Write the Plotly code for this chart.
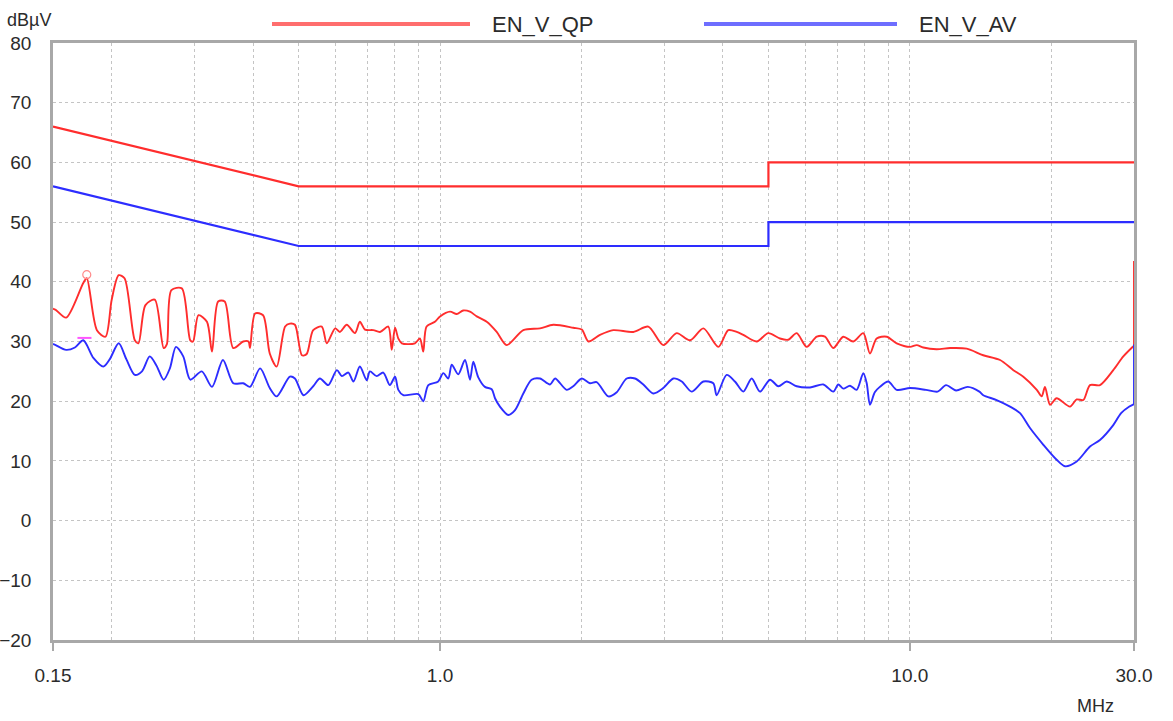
import plotly.graph_objects as go

# ---------------- data ----------------
limit_freq = [0.15, 0.5, 5.0, 5.0, 30.0]
qp_limit = [66, 56, 56, 60, 60]
av_limit = [56, 46, 46, 50, 50]

qp_freq = [0.150, 0.152, 0.160, 0.174, 0.177, 0.186, 0.194, 0.200, 0.207, 0.213, 0.224, 0.228,
           0.236, 0.247, 0.258, 0.262, 0.268, 0.282, 0.294, 0.298, 0.306, 0.319, 0.327, 0.337,
           0.348, 0.363, 0.381, 0.391, 0.394, 0.404, 0.420, 0.434, 0.449, 0.468, 0.479, 0.491,
           0.508, 0.520, 0.537, 0.560, 0.574, 0.598, 0.612, 0.633, 0.659, 0.675, 0.692, 0.721,
           0.745, 0.776, 0.789, 0.802, 0.815, 0.829, 0.884, 0.906, 0.921, 0.936, 0.975, 1.000,
           1.050, 1.085, 1.120, 1.158, 1.197, 1.257, 1.320, 1.386, 1.504, 1.632, 1.742, 1.921,
           2.003, 2.069, 2.190, 2.337, 2.579, 2.775, 2.986, 3.189, 3.405, 3.635, 3.911, 4.107,
           4.280, 4.421, 4.721, 4.996, 5.292, 5.511, 5.743, 6.032, 6.335, 6.597, 6.870, 7.215,
           7.578, 7.959, 8.224, 8.499, 8.927, 9.376, 10.01, 10.34, 10.68, 11.40, 12.18, 13.21,
           14.33, 15.56, 16.61, 17.44, 18.63, 19.08, 19.39, 19.88, 20.53, 21.92, 22.65, 23.40,
           24.18, 25.39, 27.10, 28.47, 29.81, 30.0]
qp_level = [35.5, 35.3, 34.0, 39.8, 40.6, 31.9, 30.8, 37.0, 41.1, 40.6, 30.2, 29.7,
            36.1, 37.0, 28.9, 29.5, 38.6, 38.9, 30.2, 30.0, 34.4, 33.3, 28.3, 36.7,
            36.7, 28.9, 30.0, 30.0, 28.9, 34.7, 34.4, 28.0, 25.8, 32.5, 33.0, 32.8,
            27.7, 27.9, 31.9, 32.5, 29.7, 32.2, 31.6, 32.8, 31.4, 33.3, 32.0, 31.9,
            31.6, 32.5, 28.6, 32.3, 30.5, 29.7, 29.7, 30.5, 28.3, 32.5, 33.3, 34.2,
            35.0, 34.6, 35.2, 35.0, 34.2, 33.3, 31.6, 29.4, 31.9, 32.2, 32.8, 32.3,
            32.0, 30.0, 31.1, 31.9, 31.6, 32.5, 29.4, 31.4, 30.2, 32.2, 29.1, 31.9,
            31.6, 31.1, 30.0, 31.4, 30.5, 30.3, 31.4, 29.1, 30.8, 30.8, 28.9, 30.8,
            30.0, 31.4, 28.0, 30.5, 30.8, 29.7, 29.1, 29.4, 29.0, 28.7, 28.9, 28.8,
            27.7, 26.9, 25.2, 24.1, 21.9, 20.8, 22.4, 19.4, 20.5, 19.1, 20.3, 20.2,
            22.7, 22.7, 25.2, 27.5, 29.1, 29.3]
qp_end_freq = [30.0, 30.0]
qp_end_level = [29.3, 43.5]

av_freq = [0.150, 0.152, 0.160, 0.167, 0.174, 0.183, 0.192, 0.198, 0.207, 0.215, 0.224, 0.232,
           0.241, 0.249, 0.258, 0.266, 0.274, 0.284, 0.294, 0.311, 0.327, 0.345, 0.363, 0.381,
           0.394, 0.414, 0.434, 0.449, 0.479, 0.491, 0.512, 0.537, 0.555, 0.578, 0.603, 0.618,
           0.638, 0.654, 0.675, 0.698, 0.709, 0.733, 0.757, 0.782, 0.802, 0.815, 0.835, 0.899,
           0.921, 0.944, 0.991, 1.016, 1.041, 1.059, 1.093, 1.130, 1.158, 1.177, 1.206, 1.246,
           1.288, 1.309, 1.341, 1.397, 1.444, 1.504, 1.566, 1.632, 1.714, 1.757, 1.860, 1.921,
           2.003, 2.085, 2.154, 2.281, 2.377, 2.496, 2.601, 2.708, 2.844, 2.986, 3.137, 3.269,
           3.432, 3.635, 3.816, 3.879, 4.074, 4.243, 4.421, 4.606, 4.797, 5.039, 5.249, 5.468,
           5.743, 6.130, 6.543, 6.870, 7.041, 7.215, 7.457, 7.705, 7.959, 8.094, 8.224, 8.421,
           8.631, 8.997, 9.376, 10.01, 10.82, 11.46, 11.94, 12.54, 13.28, 14.06, 14.33, 15.30,
           16.34, 17.16, 18.02, 19.24, 20.53, 21.39, 22.65, 24.18, 25.39, 27.10, 28.16, 29.33,
           30.0]
av_level = [29.6, 29.4, 28.6, 29.0, 30.2, 27.2, 25.8, 27.0, 29.7, 27.0, 24.4, 25.0,
            27.5, 26.0, 23.6, 25.5, 29.1, 27.5, 23.6, 25.0, 22.4, 26.9, 23.0, 23.0,
            22.4, 25.5, 22.2, 20.8, 24.1, 23.8, 21.0, 22.5, 23.8, 22.7, 25.2, 24.2,
            24.8, 23.3, 25.8, 23.5, 25.0, 24.2, 24.8, 22.7, 24.1, 21.9, 21.0, 21.2,
            20.0, 22.7, 23.3, 24.7, 23.8, 26.1, 24.5, 26.9, 23.6, 26.6, 24.0, 22.4,
            22.0, 20.5, 19.1, 17.7, 18.5, 21.3, 23.6, 23.8, 22.8, 23.8, 21.9, 22.5,
            23.8, 23.0, 23.2, 20.8, 21.5, 23.8, 23.8, 22.8, 21.3, 22.2, 23.8, 23.3,
            21.6, 23.3, 23.0, 21.0, 24.4, 23.3, 21.6, 23.8, 21.6, 23.6, 22.5, 23.3,
            22.5, 22.3, 22.8, 21.6, 22.8, 22.1, 22.6, 21.9, 24.7, 23.0, 19.4, 21.5,
            22.4, 23.3, 21.9, 22.2, 21.9, 21.6, 22.7, 21.8, 22.4, 21.6, 21.0, 20.2,
            19.1, 18.0, 15.5, 12.7, 10.2, 9.1, 9.9, 12.4, 13.5, 16.0, 18.0, 19.1,
            19.5]
av_end_freq = [30.0, 30.0]
av_end_level = [19.5, 29.5]

qp_peak_freq = [0.177]
qp_peak_level = [41.2]
av_peak_freq = [0.175]
av_peak_level = [30.6]

x_tick_vals = [0.15, 1.0, 10.0, 30.0]
x_tick_text = ["0.15", "1.0", "10.0", "30.0"]
x_minor_vals = [0.2, 0.3, 0.4, 0.5, 0.6, 0.7, 0.8, 0.9, 1.0,
                2, 3, 4, 5, 6, 7, 8, 9, 10, 20]
y_tick_vals = [-20, -10, 0, 10, 20, 30, 40, 50, 60, 70, 80]

legend_names = ["EN_V_QP", "EN_V_AV"]

# ---------------- styles ----------------
RED = "#ff2d2d"
BLUE = "#2d2dff"
FONT = "Liberation Sans, Arial, sans-serif"
GRID = "#c4c4c4"
FRAME = "#a8a8a8"
TXT = "#2b2b2b"

W, H = 1173, 721
ML, MR, MT, MB = 53, 39, 43, 81
plot_w = W - ML - MR
plot_h = H - MT - MB

fig = go.Figure()

fig.add_trace(go.Scatter(x=limit_freq, y=qp_limit, mode="lines", name=legend_names[0],
                         line=dict(color=RED, width=2.2), showlegend=False))
fig.add_trace(go.Scatter(x=limit_freq, y=av_limit, mode="lines", name=legend_names[1],
                         line=dict(color=BLUE, width=2.2), showlegend=False))
fig.add_trace(go.Scatter(x=qp_freq, y=qp_level, mode="lines", name="QP",
                         line=dict(color=RED, width=1.9, shape="spline", smoothing=0.8),
                         showlegend=False))
fig.add_trace(go.Scatter(x=qp_end_freq, y=qp_end_level, mode="lines", showlegend=False,
                         line=dict(color=RED, width=1.9)))
fig.add_trace(go.Scatter(x=av_freq, y=av_level, mode="lines", name="AV",
                         line=dict(color=BLUE, width=1.9, shape="spline", smoothing=0.8),
                         showlegend=False))
fig.add_trace(go.Scatter(x=av_end_freq, y=av_end_level, mode="lines", showlegend=False,
                         line=dict(color=BLUE, width=1.9)))
fig.add_trace(go.Scatter(x=qp_peak_freq, y=qp_peak_level, mode="markers", showlegend=False,
                         marker=dict(symbol="circle-open", size=8, color="#ff8a8a",
                                     line=dict(width=1.2))))
fig.add_trace(go.Scatter(x=av_peak_freq, y=av_peak_level, mode="markers", showlegend=False,
                         marker=dict(symbol="line-ew", size=10, color="#ff55ff",
                                     line=dict(width=2, color="#ff55ff"))))

# custom legend (long line samples like the original software)
def px(xp):
    return (xp - ML) / plot_w

legend_y = 1 + (MT - 24) / plot_h
legend_items = [(272, 470, 490, legend_names[0], "#ff6e6e"),
                (704, 897, 917, legend_names[1], "#6e6eff")]
for x0, x1, xt, name, col in legend_items:
    fig.add_shape(type="line", xref="paper", yref="paper", x0=px(x0), x1=px(x1),
                  y0=legend_y, y1=legend_y, line=dict(color=col, width=4))
    fig.add_annotation(text=name, xref="paper", yref="paper", x=px(xt), y=legend_y,
                       xanchor="left", yanchor="middle", showarrow=False,
                       font=dict(family=FONT, size=22, color=TXT))

fig.add_annotation(text="dBµV", xref="paper", yref="paper", x=0, y=1, xanchor="right",
                   yanchor="middle", xshift=0, yshift=MT - 20, showarrow=False,
                   font=dict(family=FONT, size=18, color=TXT))
fig.add_annotation(text="MHz", xref="paper", yref="paper", x=1, y=0, xanchor="right",
                   yanchor="middle", xshift=-18, yshift=-66, showarrow=False,
                   font=dict(family=FONT, size=18, color=TXT))

fig.update_layout(
    width=W, height=H,
    margin=dict(l=ML, r=MR, t=MT, b=MB, autoexpand=False),
    paper_bgcolor="white", plot_bgcolor="white",
    font=dict(family=FONT, size=19, color=TXT),
    showlegend=False,
)
fig.update_xaxes(
    type="log", range=[-0.82391, 1.47712],
    tickvals=x_tick_vals, ticktext=x_tick_text,
    ticks="outside", ticklen=8, tickcolor=FRAME, tickwidth=1.5,
    showgrid=False,
    minor=dict(tickvals=x_minor_vals, showgrid=True, gridcolor=GRID, griddash="dot",
               gridwidth=1, ticks=""),
    showline=True, linecolor=FRAME, linewidth=2.5, mirror=True,
    ticklabelstandoff=8, zeroline=False, automargin=False,
    tickfont=dict(family=FONT, size=19, color=TXT),
)
fig.update_yaxes(
    range=[-20, 80], tickvals=y_tick_vals,
    showgrid=True, gridcolor=GRID, griddash="dot", gridwidth=1,
    showline=True, linecolor=FRAME, linewidth=2.5, mirror=True,
    ticks="", ticklabelstandoff=15, zeroline=False, automargin=False,
    tickfont=dict(family=FONT, size=19, color=TXT),
)

fig.write_html("out.html")
